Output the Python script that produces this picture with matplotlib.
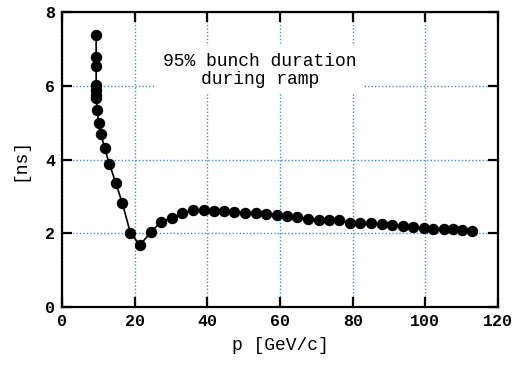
import matplotlib
matplotlib.use("Agg")
import matplotlib.pyplot as plt

p_gev = [9.4, 9.4, 9.4, 9.4, 9.4, 9.4, 9.4, 9.7, 10.1, 10.7, 11.7, 13.0, 14.8, 16.6,
         18.8, 21.4, 24.5, 27.2, 30.4, 33.1, 36.0, 39.0, 41.8, 44.6, 47.4, 50.5,
         53.4, 56.2, 59.1, 61.8, 64.8, 67.7, 70.6, 73.4, 76.3, 79.3, 82.0, 85.1,
         88.0, 90.8, 93.8, 96.7, 99.5, 102.2, 105.0, 107.5, 110.2, 112.8]
duration_ns = [7.37, 6.77, 6.53, 6.02, 5.88, 5.76, 5.66, 5.34, 5.00, 4.70, 4.32, 3.89,
               3.37, 2.82, 2.02, 1.68, 2.03, 2.31, 2.42, 2.54, 2.64, 2.63, 2.61, 2.60,
               2.58, 2.56, 2.54, 2.52, 2.49, 2.46, 2.43, 2.40, 2.36, 2.36, 2.36, 2.29,
               2.29, 2.27, 2.25, 2.22, 2.20, 2.16, 2.13, 2.11, 2.11, 2.11, 2.09, 2.06]
x_ticks = [0, 20, 40, 60, 80, 100, 120]
y_ticks = [0, 2, 4, 6, 8]

plt.rcParams['font.family'] = ['Liberation Mono', 'DejaVu Sans Mono']

fig = plt.figure(figsize=(5.15, 3.66), dpi=100)
ax = fig.add_axes([62/515, 1-307/366, (498-62)/515, (307-12)/366])

ax.plot(p_gev, duration_ns, color='black', lw=1.2, marker='o', ms=7.2,
        mfc='black', mec='black', zorder=3)

ax.set_xlim(0, 120)
ax.set_ylim(0, 8)
ax.set_xticks(x_ticks)
ax.set_yticks(y_ticks)
ax.grid(True, color='#3b8de0', linestyle=(0, (1, 1.5)), linewidth=1.0, zorder=0)
ax.tick_params(direction='in', length=7, width=1.6, top=True, right=True,
               labelsize=12, pad=5, color='black')
for s in ax.spines.values():
    s.set_linewidth(1.6)
for lab in ax.get_xticklabels() + ax.get_yticklabels():
    lab.set_fontweight('bold')

ax.set_xlabel('p [GeV/c]', fontsize=13, labelpad=6)
ax.set_ylabel('[ns]', fontsize=13, labelpad=12)

ax.text(54.5, 6.42, '95% bunch duration\nduring ramp', ha='center', va='center',
        fontsize=13, linespacing=1.05, zorder=2,
        bbox=dict(facecolor='white', edgecolor='none', pad=5))

fig.savefig('out.png', dpi=100)
